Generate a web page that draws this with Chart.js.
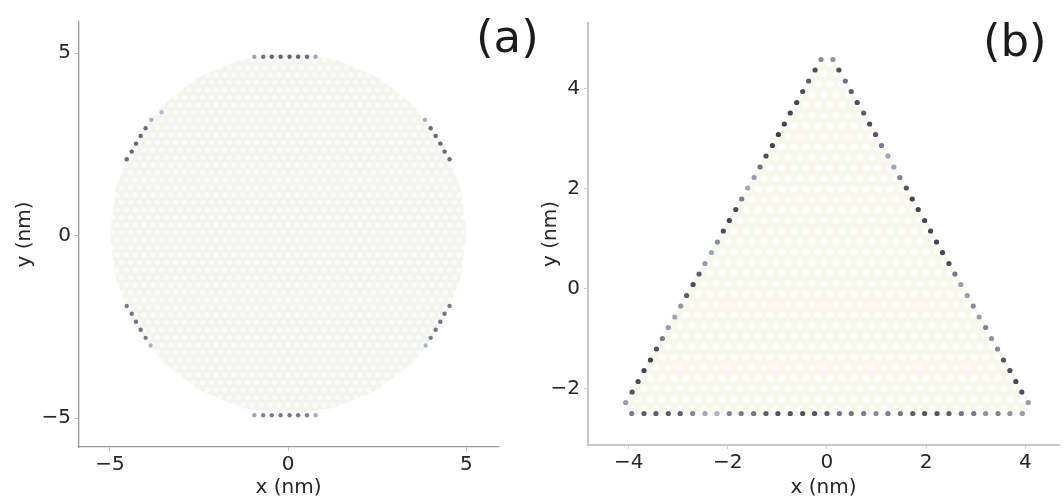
<!DOCTYPE html>
<html>
<head>
<meta charset="utf-8">
<script src="https://cdn.jsdelivr.net/npm/chart.js@4.4.1/dist/chart.umd.min.js"></script>
<style>
    html, body { margin: 0; padding: 0; background: #fff; }
    body { width: 1063px; height: 501px; position: relative; overflow: hidden; font-family: "DejaVu Sans", sans-serif; }
    .panel { position: absolute; top: 0; height: 501px; }
    #boxA { left: 0; width: 540px; }
    #boxB { left: 530px; width: 533px; }
    .tag { position: absolute; font-size: 45px; line-height: 1; color: #1c1c1c; }
</style>
</head>
<body>
<div class="panel" id="boxA"><canvas id="flakeA"></canvas></div>
<div class="panel" id="boxB"><canvas id="flakeB"></canvas></div>
<div class="tag" style="left:476px;top:14px">(a)</div>
<div class="tag" style="left:983px;top:18px">(b)</div>
<script>
// ---- panel (a): circular flake ----
const aTicksX = [-5, 0, 5];
const aTicksY = [-5, 0, 5];

// edge sites (x, y in nm) and their edge-state weight
const circEdgeX = [
    -0.95, -0.70, -0.46, -0.21, 0.04, 0.28, 0.53, 0.77,
    -0.95, -0.70, -0.46, -0.21, 0.04, 0.28, 0.53, 0.77,
    -4.53, -4.39, -4.27, -4.14, -4.00, -3.84, -3.55,
    4.53, 4.39, 4.27, 4.14, 4.00, 3.84,
    -4.53, -4.39, -4.27, -4.14, -4.00, -3.86,
    4.53, 4.39, 4.27, 4.14, 4.00, 3.86
];
const circEdgeY = [
    4.90, 4.90, 4.90, 4.90, 4.90, 4.90, 4.90, 4.90,
    -4.92, -4.92, -4.92, -4.92, -4.92, -4.92, -4.92, -4.92,
    2.09, 2.30, 2.52, 2.73, 2.94, 3.17, 3.38,
    2.09, 2.30, 2.52, 2.73, 2.94, 3.17,
    -1.93, -2.14, -2.36, -2.58, -2.80, -3.01,
    -1.93, -2.14, -2.36, -2.58, -2.80, -3.01
];
const circEdgeW = [
    0.3, 0.6, 0.7, 0.7, 0.7, 0.7, 0.65, 0.3,
    0.3, 0.5, 0.55, 0.55, 0.55, 0.55, 0.5, 0.25,
    0.65, 0.7, 0.7, 0.7, 0.65, 0.25, 0.15,
    0.65, 0.7, 0.7, 0.7, 0.65, 0.25,
    0.55, 0.6, 0.6, 0.6, 0.55, 0.2,
    0.55, 0.6, 0.6, 0.6, 0.55, 0.2
];

// outline of the flake (bulk sites)
const circShapeX = [5.00, 4.83, 4.33, 3.54, 2.50, 1.29, 0.00, -1.29, -2.50, -3.54, -4.33, -4.83,
    -5.00, -4.83, -4.33, -3.54, -2.50, -1.29, 0.00, 1.29, 2.50, 3.54, 4.33, 4.83];
const circShapeY = [0.06, 1.34, 2.54, 3.56, 4.35, 4.84, 5.01, 4.84, 4.35, 3.56, 2.54, 1.34,
    0.06, -1.22, -2.42, -3.44, -4.23, -4.72, -4.89, -4.72, -4.23, -3.44, -2.42, -1.22];

// ---- panel (b): triangular flake ----
const bTicksX = [-4, -2, 0, 2, 4];
const bTicksY = [-2, 0, 2, 4];

const triLeftX = [-0.12, -0.24, -0.37, -0.49, -0.61, -0.74, -0.86, -0.98, -1.10, -1.23, -1.35,
    -1.47, -1.60, -1.72, -1.84, -1.97, -2.09, -2.21, -2.33, -2.46, -2.58, -2.70,
    -2.83, -2.95, -3.07, -3.20, -3.32, -3.44, -3.56, -3.69, -3.81, -3.93, -4.06];
const triRightX = [0.12, 0.24, 0.37, 0.49, 0.61, 0.74, 0.86, 0.98, 1.10, 1.23, 1.35,
    1.47, 1.60, 1.72, 1.84, 1.97, 2.09, 2.21, 2.33, 2.46, 2.58, 2.70,
    2.83, 2.95, 3.07, 3.20, 3.32, 3.44, 3.56, 3.69, 3.81, 3.93, 4.06];
const triSideY = [4.58, 4.37, 4.15, 3.94, 3.72, 3.51, 3.29, 3.08, 2.86, 2.65, 2.43,
    2.22, 2.01, 1.79, 1.58, 1.36, 1.15, 0.93, 0.72, 0.50, 0.29, 0.08,
    -0.14, -0.35, -0.57, -0.78, -1.00, -1.21, -1.43, -1.64, -1.86, -2.07, -2.28];
const triLeftW = [0.45, 0.85, 0.75, 0.85, 0.9, 0.9, 0.9, 0.95, 0.9, 0.85, 0.6,
    0.35, 0.3, 0.55, 0.85, 0.9, 0.85, 0.45, 0.3, 0.35, 0.75, 0.85,
    0.75, 0.4, 0.3, 0.35, 0.55, 0.8, 0.9, 0.9, 0.85, 0.8, 0.35];
const triRightW = [0.4, 0.85, 0.6, 0.75, 0.85, 0.75, 0.85, 0.8, 0.55, 0.3, 0.3,
    0.5, 0.8, 0.9, 0.9, 0.9, 0.9, 0.9, 0.9, 0.85, 0.6, 0.35,
    0.35, 0.45, 0.35, 0.5, 0.4, 0.45, 0.8, 0.85, 0.9, 0.85, 0.35];

const triBottomX = [-3.94, -3.69, -3.45, -3.20, -2.96, -2.71, -2.46, -2.22, -1.97, -1.73, -1.48,
    -1.23, -0.99, -0.74, -0.49, -0.25, 0.00, 0.25, 0.49, 0.74, 0.99, 1.23,
    1.48, 1.73, 1.97, 2.22, 2.46, 2.71, 2.96, 3.20, 3.45, 3.69, 3.94];
const triBottomY = -2.5;
const triBottomW = [0.55, 0.75, 0.75, 0.75, 0.75, 0.5, 0.3, 0.2, 0.5, 0.55, 0.6,
    0.75, 0.8, 0.8, 0.8, 0.8, 0.75, 0.6, 0.6, 0.55, 0.45, 0.55,
    0.6, 0.75, 0.8, 0.8, 0.75, 0.6, 0.55, 0.4, 0.5, 0.4, 0.35];

const triShapeX = [-0.12, 0.12, 4.10, 3.98, -3.98, -4.10];
const triShapeY = [4.62, 4.62, -2.28, -2.52, -2.52, -2.28];


function weightColor(w) {
    var lo = [204, 212, 230], hi = [52, 54, 68];
    var c = lo.map(function (v, i) { return Math.round(v + (hi[i] - v) * w); });
    return 'rgb(' + c.join(',') + ')';
}

function toPoints(xs, ys) {
    return xs.map(function (x, i) { return { x: x, y: Array.isArray(ys) ? ys[i] : ys }; });
}

function minus(v) {
    return v < 0 ? '\u2212' + (-v) : '' + v;
}

// pale honeycomb texture for the bulk sites
function dotPattern(ctx, o) {
    var c = document.createElement('canvas');
    c.width = o.cellW; c.height = o.cellH;
    var g = c.getContext('2d');
    g.fillStyle = o.base;
    g.fillRect(0, 0, o.cellW, o.cellH);
    g.fillStyle = o.spot;
    var r = o.cellW * 0.3;
    [[0, 0], [o.cellW, 0], [0, o.cellH], [o.cellW, o.cellH], [o.cellW / 2, o.cellH / 2]].forEach(function (p) {
        g.beginPath(); g.arc(p[0], p[1], r, 0, Math.PI * 2); g.fill();
    });
    return ctx.createPattern(c, 'repeat');
}

const flakeFill = {
    id: 'flakeFill',
    beforeDatasetsDraw: function (chart, args, opts) {
        var ctx = chart.ctx, sx = chart.scales.x, sy = chart.scales.y;
        ctx.save();
        ctx.beginPath();
        opts.xs.forEach(function (v, i) {
            var px = sx.getPixelForValue(v), py = sy.getPixelForValue(opts.ys[i]);
            if (i === 0) ctx.moveTo(px, py); else ctx.lineTo(px, py);
        });
        ctx.closePath();
        ctx.fillStyle = dotPattern(ctx, opts);
        ctx.fill();
        ctx.restore();
    }
};

const tickFont = { family: 'DejaVu Sans', size: 20 };
const textColor = '#262626';

function axis(min, max, ticks, title, fit, isX, spine, titlePad) {
    return {
        type: 'linear',
        min: min,
        max: max,
        afterBuildTicks: function (s) { s.ticks = ticks.map(function (v) { return { value: v }; }); },
        afterFit: function (s) { if (isX) s.height = fit; else s.width = fit; },
        ticks: { font: tickFont, color: textColor, padding: isX ? 2 : 4, callback: minus },
        grid: { drawOnChartArea: false, drawTicks: true, tickLength: 4, color: spine.tick },
        border: { display: true, color: spine.color, width: spine.width },
        title: {
            display: true, text: title, font: tickFont, color: textColor,
            padding: isX ? { top: 0, bottom: titlePad } : { top: titlePad, bottom: 0 }
        }
    };
}

// panel (a)
new Chart(document.getElementById('flakeA'), {
    type: 'scatter',
    data: {
        datasets: [{
            label: 'edge',
            data: toPoints(circEdgeX, circEdgeY),
            pointBackgroundColor: circEdgeW.map(weightColor),
            pointRadius: 2.2,
            pointBorderWidth: 0
        }]
    },
    options: {
        responsive: true,
        maintainAspectRatio: false,
        animation: false,
        layout: { padding: { top: 22, right: 42, left: 0, bottom: 0 } },
        plugins: {
            legend: { display: false },
            tooltip: { enabled: false },
            flakeFill: { xs: circShapeX, ys: circShapeY, base: '#f3f3ef', spot: '#fafaf7', cellW: 9, cellH: 15 }
        },
        scales: {
            x: axis(-5.87, 5.89, aTicksX, 'x (nm)', 54, true, { color: '#9a9a9a', width: 1.3, tick: '#bdbdbd' }, 1),
            y: axis(-5.79, 5.85, aTicksY, 'y (nm)', 79, false, { color: '#9a9a9a', width: 1.3, tick: '#bdbdbd' }, 13)
        }
    },
    plugins: [flakeFill]
});

// panel (b)
new Chart(document.getElementById('flakeB'), {
    type: 'scatter',
    data: {
        datasets: [{
            label: 'left edge',
            data: toPoints(triLeftX, triSideY),
            pointBackgroundColor: triLeftW.map(weightColor),
            pointRadius: 2.6,
            pointBorderWidth: 0
        },
        {
            label: 'right edge',
            data: toPoints(triRightX, triSideY),
            pointBackgroundColor: triRightW.map(weightColor),
            pointRadius: 2.6,
            pointBorderWidth: 0
        },
        {
            label: 'bottom edge',
            data: toPoints(triBottomX, triBottomY),
            pointBackgroundColor: triBottomW.map(weightColor),
            pointRadius: 2.6,
            pointBorderWidth: 0
        }]
    },
    options: {
        responsive: true,
        maintainAspectRatio: false,
        animation: false,
        layout: { padding: { top: 23, right: 0, left: 0, bottom: 0 } },
        plugins: {
            legend: { display: false },
            tooltip: { enabled: false },
            flakeFill: { xs: triShapeX, ys: triShapeY, base: '#f8f7ec', spot: '#fdfdf9', cellW: 12, cellH: 21 }
        },
        scales: {
            x: axis(-4.82, 4.68, bTicksX, 'x (nm)', 56, true, { color: '#c8c8c8', width: 2, tick: '#d0d0d0' }, 1),
            y: axis(-3.13, 5.31, bTicksY, 'y (nm)', 58, false, { color: '#c8c8c8', width: 2, tick: '#d0d0d0' }, 9)
        }
    },
    plugins: [flakeFill]
});
</script>
</body>
</html>
